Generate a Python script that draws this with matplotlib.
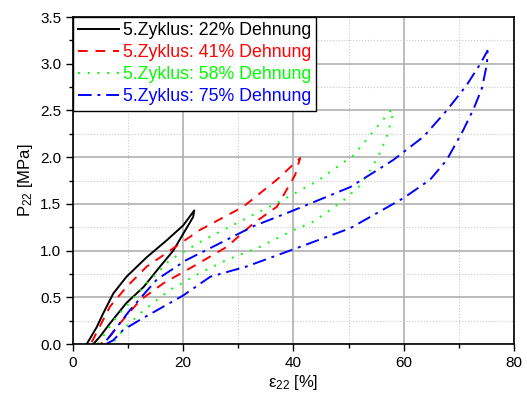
import matplotlib.pyplot as plt
import numpy as np

plt.rcParams['font.family'] = ['Liberation Sans', 'DejaVu Sans']
plt.rcParams['mathtext.fontset'] = 'custom'
plt.rcParams['mathtext.rm'] = 'Liberation Sans'
plt.rcParams['mathtext.it'] = 'Liberation Sans'

# 22% Dehnung (loop: upper branch then lower branch back)
x22 = [2.5, 4.3, 5.5, 7.3, 9.7, 13.4, 17.0, 20.0, 22.0,
       21.8, 20.0, 18.2, 15.8, 12.8, 9.7, 6.7, 4.9, 3.7]
y22 = [0.0, 0.18, 0.33, 0.54, 0.72, 0.93, 1.11, 1.27, 1.43,
       1.36, 1.18, 1.0, 0.83, 0.61, 0.44, 0.22, 0.08, 0.0]

x41 = [3.4, 6.7, 9.7, 13.4, 17.6, 23.0, 30.9, 37.0, 41.2,
       40.3, 37.0, 32.7, 27.9, 21.8, 16.4, 12.2, 8.5, 6.7, 5.0]
y41 = [0.02, 0.40, 0.61, 0.83, 1.0, 1.22, 1.47, 1.76, 1.99,
       1.81, 1.47, 1.29, 1.04, 0.83, 0.65, 0.47, 0.22, 0.08, 0.0]

x58 = [4.5, 8.0, 13.4, 17.6, 23.6, 30.9, 37.0, 44.2, 50.9, 57.5, 58.1,
       57.8, 56.8, 55.4, 53.6, 51.8, 49.1, 46.3, 43.3, 40.0, 33.9,
       27.9, 23.0, 17.6, 12.8, 9.7, 7.3]
y58 = [0.0, 0.30, 0.65, 0.90, 1.11, 1.33, 1.51, 1.74, 2.02, 2.49, 2.5,
       2.40, 2.2, 2.01, 1.83, 1.68, 1.54, 1.42, 1.30, 1.22, 1.04,
       0.90, 0.76, 0.58, 0.36, 0.19, 0.02]

x75 = [6.1, 10.3, 15.2, 20.6, 26.7, 32.7, 40.0, 50.3, 58.1, 63.6, 67.8,
       71.4, 73.9, 75.2, 75.1, 74.2, 72.7, 70.8, 67.8, 64.8, 59.9, 55.1,
       50.3, 41.2, 31.5, 24.9, 20.0, 15.8, 12.2, 9.1, 7.3, 6.0]
y75 = [0.04, 0.36, 0.69, 0.90, 1.08, 1.26, 1.43, 1.68, 1.97, 2.22, 2.5,
       2.77, 3.0, 3.14, 3.0, 2.74, 2.52, 2.29, 1.97, 1.76, 1.56, 1.40,
       1.24, 1.04, 0.83, 0.72, 0.52, 0.38, 0.26, 0.15, 0.04, 0.0]

labels = ['5.Zyklus: 22% Dehnung', '5.Zyklus: 41% Dehnung',
          '5.Zyklus: 58% Dehnung', '5.Zyklus: 75% Dehnung']
colors = ['black', '#ff0000', '#00ff00', '#0000ff']

fig = plt.figure(figsize=(5.27, 3.97), dpi=100)
ax = fig.add_axes([0.1385, 0.1335, 0.8368, 0.8235])

ax.plot(x22, y22, color=colors[0], lw=1.4, ls='-', label=labels[0])
ax.plot(x41, y41, color=colors[1], lw=1.4, ls=(0, (5, 4)), label=labels[1])
ax.plot(x58, y58, color=colors[2], lw=1.4, ls=(0, (1, 4)), label=labels[2])
ax.plot(x75, y75, color=colors[3], lw=1.4, ls=(0, (7, 3, 1.5, 3)), label=labels[3])

ax.set_xlim(0, 80)
ax.set_ylim(0, 3.5)
ax.set_xticks(np.arange(0, 81, 20))
ax.set_xticks(np.arange(10, 80, 20), minor=True)
ax.set_yticks(np.arange(0, 3.51, 0.5))
ax.set_yticks(np.arange(0.25, 3.5, 0.5), minor=True)
ax.set_yticklabels(['%.1f' % v for v in np.arange(0, 3.51, 0.5)])
ax.grid(which='major', color='#b0b0b0', lw=1.2, ls='-')
ax.grid(which='minor', color='#c8c8c8', lw=0.8, ls=':')
ax.set_axisbelow(True)
ax.tick_params(which='both', direction='out', top=False, right=False,
               labelsize=11, width=1, colors='black')
ax.tick_params(which='major', length=5)
ax.tick_params(which='minor', length=3)
for s in ax.spines.values():
    s.set_linewidth(1.2)

ax.set_xlabel(r'$\mathregular{\epsilon_{22}}$ [%]', fontsize=12, labelpad=2)
ax.set_ylabel(r'P$_{22}$ [MPa]', fontsize=12, labelpad=4)

leg = ax.legend(loc='upper left', fontsize=12.8, handlelength=2.3,
                borderaxespad=0, fancybox=False, framealpha=1,
                edgecolor='black', handletextpad=0.2, labelspacing=0.28,
                borderpad=0.3)
leg.get_frame().set_linewidth(1.0)
for t, c in zip(leg.get_texts(), colors):
    t.set_color(c)

fig.savefig('out.png', dpi=100)
